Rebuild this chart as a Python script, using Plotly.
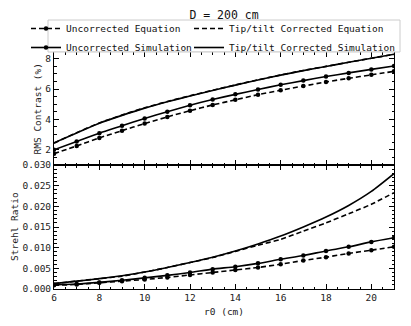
import plotly.graph_objects as go

r0 = [6, 7, 8, 9, 10, 11, 12, 13, 14, 15, 16, 17, 18, 19, 20, 21]

# RMS contrast (%)
rms_unc_eq = [1.73, 2.24, 2.77, 3.25, 3.72, 4.16, 4.57, 4.95, 5.29, 5.63, 5.92, 6.20, 6.47, 6.71, 6.94, 7.17]
rms_unc_sim = [1.98, 2.53, 3.08, 3.57, 4.06, 4.50, 4.93, 5.31, 5.65, 5.97, 6.28, 6.56, 6.83, 7.07, 7.30, 7.53]
rms_tt_eq = [2.42, 3.12, 3.76, 4.28, 4.76, 5.18, 5.56, 5.92, 6.27, 6.61, 6.93, 7.23, 7.50, 7.77, 8.04, 8.29]
rms_tt_sim = [2.45, 3.10, 3.74, 4.26, 4.74, 5.16, 5.54, 5.90, 6.26, 6.60, 6.92, 7.22, 7.49, 7.77, 8.04, 8.30]

# Strehl ratio
sr_unc_eq = [0.0009, 0.0011, 0.0015, 0.0019, 0.0023, 0.0028, 0.0034, 0.0040, 0.0046, 0.0052, 0.0060, 0.0069, 0.0077, 0.0086, 0.0094, 0.0102]
sr_unc_sim = [0.0010, 0.0012, 0.0016, 0.0021, 0.0027, 0.0033, 0.0040, 0.0048, 0.0054, 0.0062, 0.0072, 0.0081, 0.0092, 0.0102, 0.0114, 0.0124]
sr_tt_eq = [0.0013, 0.0019, 0.0025, 0.0031, 0.0041, 0.0052, 0.0064, 0.0076, 0.0091, 0.0106, 0.0120, 0.0140, 0.0160, 0.0182, 0.0205, 0.0233]
sr_tt_sim = [0.0013, 0.0019, 0.0025, 0.0032, 0.0041, 0.0052, 0.0064, 0.0077, 0.0092, 0.0109, 0.0128, 0.0150, 0.0174, 0.0202, 0.0236, 0.0279]

names = ["Uncorrected Equation", "Tip/tilt Corrected Equation",
         "Uncorrected Simulation", "Tip/tilt Corrected Simulation"]

FONT = "DejaVu Sans Mono"
DASH = "5px,3px"

fig = go.Figure()

def add(y, name, dash, markers, panel, legend):
    fig.add_trace(go.Scatter(
        x=r0, y=y, name=name, legendgroup=name,
        showlegend=legend is not None, legend=legend or "legend",
        mode="lines+markers" if markers else "lines",
        line=dict(color="black", width=1.6, dash=dash, shape="spline", smoothing=0.6),
        marker=dict(color="black", size=4.5, symbol="circle"),
        xaxis="x" if panel == 1 else "x2", yaxis="y" if panel == 1 else "y2",
    ))

add(rms_unc_eq, names[0], DASH, True, 1, "legend")
add(rms_unc_sim, names[2], "solid", True, 1, "legend")
add(rms_tt_eq, names[1], DASH, False, 1, "legend2")
add(rms_tt_sim, names[3], "solid", False, 1, "legend2")
add(sr_unc_eq, names[0], DASH, True, 2, None)
add(sr_unc_sim, names[2], "solid", True, 2, None)
add(sr_tt_eq, names[1], DASH, False, 2, None)
add(sr_tt_sim, names[3], "solid", False, 2, None)

axis_common = dict(
    showline=True, linecolor="black", linewidth=1, mirror="ticks",
    ticks="inside", ticklen=5, tickwidth=1, tickcolor="black",
    showgrid=False, zeroline=False, automargin=False,
    tickfont=dict(family=FONT, size=9.5, color="#222"),
)
minor_common = dict(ticks="inside", ticklen=2.5, tickwidth=1, tickcolor="black", showgrid=False)

# figure is drawn with an 8px page offset, so size it to the visible window
W = 403
H = 318
L, R, T, B = 46, 17, 44, 37
PW = W - L - R
PH = H - T - B
bot_frac = 124 / PH

leg_common = dict(orientation="v", xref="container", yref="container", yanchor="top", xanchor="left",
                  y=1 - 6 / H, bgcolor="rgba(0,0,0,0)", borderwidth=0, itemwidth=30,
                  tracegroupgap=0, font=dict(family=FONT, size=9.5, color="#111"))

label_font = dict(family=FONT, size=9.5, color="#222")

fig.update_layout(
    template="none",
    width=W, height=H,
    margin=dict(l=L, r=R, t=T, b=B, autoexpand=False),
    paper_bgcolor="white", plot_bgcolor="white",
    font=dict(family=FONT, size=9.5, color="#222"),
    title=dict(text="D = 200 cm", x=(224 - 8) / W, xanchor="center", y=1 - 7 / H, yanchor="middle",
               font=dict(family=FONT, size=11.5, color="#111")),
    xaxis=dict(axis_common, range=[6, 21], dtick=2, tick0=6, showticklabels=False,
               anchor="y", matches="x2", minor=dict(minor_common, dtick=0.5)),
    yaxis=dict(axis_common, domain=[bot_frac, 1], range=[0.98, 8.45], dtick=2, tick0=0,
               anchor="x", minor=dict(minor_common, dtick=0.5)),
    xaxis2=dict(axis_common, range=[6, 21], dtick=2, tick0=6, anchor="y2",
                minor=dict(minor_common, dtick=0.5)),
    yaxis2=dict(axis_common, domain=[0, bot_frac], range=[0, 0.030], dtick=0.005, tick0=0,
                tickformat=".3f", anchor="x2", minor=dict(minor_common, dtick=0.001)),
    legend=dict(leg_common, x=18 / W),
    legend2=dict(leg_common, x=181 / W),
    showlegend=True,
    annotations=[
        dict(text="RMS Contrast (%)", textangle=-90, xref="paper", yref="paper",
             x=(29 - L) / PW, y=(1 + bot_frac) / 2, xanchor="center", yanchor="middle",
             showarrow=False, font=label_font),
        dict(text="Strehl Ratio", textangle=-90, xref="paper", yref="paper",
             x=(6 - L) / PW, y=bot_frac / 2, xanchor="center", yanchor="middle",
             showarrow=False, font=label_font),
        dict(text="r0 (cm)", xref="paper", yref="paper",
             x=0.5, y=(T + PH - 303) / PH, xanchor="center", yanchor="middle",
             showarrow=False, font=label_font),
    ],
    shapes=[dict(type="rect", xref="paper", yref="paper", layer="above",
                 x0=(40 - L) / PW, x1=(392 - L) / PW, y0=(T + PH - 44) / PH, y1=(T + PH - 12) / PH,
                 line=dict(color="#cccccc", width=1), fillcolor="rgba(255,255,255,0.9)")],
)

fig.write_html("out.html")
